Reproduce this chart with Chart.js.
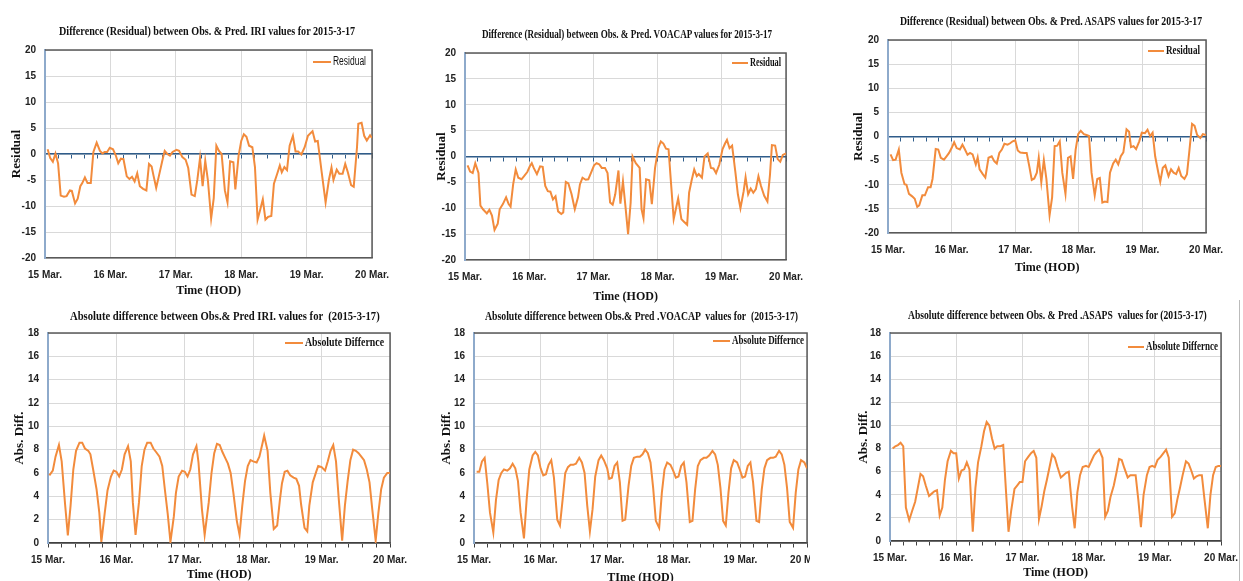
<!DOCTYPE html>
<html>
<head>
<meta charset="utf-8">
<script src="https://cdn.jsdelivr.net/npm/chart.js@4.4.1/dist/chart.umd.min.js"></script>
<style>
  html, body { margin: 0; padding: 0; background: #fff; width: 1243px; height: 581px; overflow: hidden; position: relative; }
  canvas { position: absolute; }
  .titulo { position: absolute; white-space: pre; font-family: 'Liberation Serif', serif; font-weight: bold; color: #111; transform-origin: left center; }
  .tapa { position: absolute; background: #fff; }
</style>
</head>
<body>
<script>
// Etiquetas del eje X (un tick por día)
const DIAS = ['15 Mar.', '16 Mar.', '17 Mar.', '18 Mar.', '19 Mar.', '20 Mar.'];

// Series: [día, valor]
const iriResiduo = [[15.04,0.9],[15.08,-0.8],[15.12,-1.5],[15.16,0.1],[15.2,-1.8],[15.24,-8.0],[15.29,-8.2],[15.33,-8.1],[15.38,-7.0],[15.41,-7.1],[15.46,-9.5],[15.5,-8.6],[15.54,-6.2],[15.57,-5.6],[15.61,-4.5],[15.65,-5.6],[15.7,-5.6],[15.74,0.4],[15.79,2.2],[15.84,0.6],[15.88,0.1],[15.91,0.4],[15.95,0.4],[15.99,1.2],[16.04,0.9],[16.08,-0.2],[16.12,-1.8],[16.16,-0.9],[16.2,-1.0],[16.25,-4.3],[16.29,-4.8],[16.33,-4.4],[16.37,-5.3],[16.41,-3.7],[16.45,-6.2],[16.5,-6.7],[16.55,-7.0],[16.59,-1.9],[16.63,-2.4],[16.66,-4.2],[16.7,-6.5],[16.74,-4.3],[16.79,-1.5],[16.83,0.6],[16.87,0.0],[16.91,-0.3],[16.95,0.4],[17.01,0.8],[17.05,0.6],[17.1,-0.6],[17.15,-1.1],[17.19,-2.7],[17.24,-7.8],[17.29,-8.1],[17.33,-4.9],[17.37,-0.8],[17.41,-6.2],[17.45,-1.3],[17.49,-5.0],[17.54,-12.4],[17.58,-8.5],[17.62,1.6],[17.66,0.6],[17.7,0.0],[17.75,-7.0],[17.79,-9.3],[17.83,-1.4],[17.88,-1.6],[17.91,-6.8],[17.96,-0.3],[18.0,2.5],[18.04,3.8],[18.08,3.3],[18.12,1.6],[18.17,1.3],[18.21,-2.5],[18.25,-12.6],[18.29,-10.7],[18.33,-8.7],[18.37,-12.6],[18.41,-12.1],[18.46,-11.9],[18.5,-5.7],[18.55,-3.8],[18.59,-2.2],[18.62,-3.5],[18.66,-2.5],[18.7,-3.1],[18.74,1.6],[18.79,3.5],[18.83,0.5],[18.87,0.5],[18.92,-0.1],[18.97,1.3],[19.02,3.5],[19.09,4.4],[19.13,2.4],[19.17,2.5],[19.23,-3.5],[19.29,-9.3],[19.34,-5.0],[19.38,-2.6],[19.41,-5.0],[19.46,-3.0],[19.5,-3.8],[19.55,-3.8],[19.59,-1.9],[19.63,-3.5],[19.68,-6.0],[19.72,-6.3],[19.77,1.3],[19.79,5.8],[19.84,6.0],[19.88,3.5],[19.92,2.6],[19.97,3.6],[20.0,3.1]];

const voacapResiduo = [[15.04,-1.7],[15.08,-2.9],[15.12,-3.2],[15.16,-1.3],[15.21,-3.2],[15.24,-9.5],[15.28,-10.2],[15.34,-11.0],[15.38,-10.3],[15.42,-11.4],[15.46,-14.2],[15.51,-13.0],[15.54,-10.2],[15.59,-9.2],[15.64,-7.9],[15.68,-9.2],[15.71,-9.7],[15.75,-5.4],[15.79,-2.5],[15.83,-4.1],[15.88,-4.4],[15.92,-3.8],[15.97,-3.0],[16.01,-1.9],[16.04,-1.3],[16.07,-2.2],[16.12,-3.4],[16.17,-1.9],[16.21,-2.0],[16.25,-5.7],[16.29,-6.7],[16.33,-6.8],[16.37,-8.3],[16.41,-7.7],[16.45,-10.6],[16.5,-11.1],[16.53,-10.8],[16.57,-4.9],[16.61,-5.2],[16.66,-7.3],[16.71,-10.2],[16.76,-7.9],[16.79,-5.4],[16.83,-4.1],[16.88,-4.5],[16.92,-4.4],[16.97,-2.9],[17.01,-1.7],[17.05,-1.3],[17.09,-1.5],[17.13,-2.2],[17.18,-2.2],[17.22,-3.2],[17.26,-8.9],[17.3,-9.3],[17.34,-7.3],[17.39,-2.7],[17.42,-9.1],[17.46,-4.8],[17.5,-9.8],[17.54,-15.0],[17.58,-8.9],[17.61,0.0],[17.66,-1.3],[17.72,-2.2],[17.75,-10.2],[17.78,-11.9],[17.82,-4.4],[17.87,-4.6],[17.91,-9.2],[17.96,-2.2],[18.01,1.6],[18.05,2.9],[18.09,2.5],[18.13,1.5],[18.17,1.4],[18.21,-5.4],[18.25,-12.1],[18.29,-9.8],[18.32,-8.1],[18.37,-12.1],[18.41,-12.6],[18.46,-13.2],[18.49,-7.0],[18.53,-4.6],[18.57,-2.5],[18.61,-3.8],[18.64,-3.4],[18.69,-4.1],[18.73,0.0],[18.78,0.6],[18.83,-2.2],[18.87,-2.3],[18.91,-3.2],[18.96,-1.6],[19.01,1.4],[19.05,2.5],[19.08,3.2],[19.12,1.6],[19.16,2.1],[19.21,-2.9],[19.25,-7.3],[19.29,-10.0],[19.34,-6.7],[19.37,-4.0],[19.41,-7.3],[19.45,-6.2],[19.49,-7.0],[19.53,-6.3],[19.57,-3.8],[19.61,-5.7],[19.66,-7.6],[19.71,-8.7],[19.75,-3.5],[19.78,2.2],[19.83,2.1],[19.87,-0.5],[19.91,-1.0],[19.95,0.3],[20.0,0.6]];

const asapsResiduo = [[15.04,-3.7],[15.08,-4.9],[15.12,-4.8],[15.17,-2.7],[15.21,-7.5],[15.26,-9.9],[15.29,-10.0],[15.33,-11.9],[15.38,-12.4],[15.42,-12.9],[15.46,-14.6],[15.49,-14.3],[15.54,-12.2],[15.58,-12.2],[15.63,-10.5],[15.67,-10.5],[15.7,-8.8],[15.75,-2.6],[15.79,-2.7],[15.83,-4.4],[15.88,-4.8],[15.92,-4.1],[15.96,-3.4],[16.0,-2.4],[16.04,-1.2],[16.08,-2.4],[16.13,-2.7],[16.17,-1.7],[16.21,-2.7],[16.25,-3.8],[16.29,-3.4],[16.33,-3.7],[16.38,-5.8],[16.41,-4.3],[16.44,-6.8],[16.49,-7.8],[16.53,-8.5],[16.58,-4.4],[16.63,-4.1],[16.67,-5.1],[16.71,-5.6],[16.75,-3.4],[16.79,-2.7],[16.83,-1.5],[16.88,-1.7],[16.92,-1.4],[16.96,-1.0],[17.0,-0.8],[17.04,-2.9],[17.08,-3.3],[17.14,-3.4],[17.18,-3.4],[17.22,-6.1],[17.26,-9.0],[17.3,-8.7],[17.34,-7.5],[17.37,-4.4],[17.41,-9.5],[17.45,-4.9],[17.49,-8.8],[17.54,-16.3],[17.58,-12.6],[17.62,-2.0],[17.66,-1.9],[17.7,-1.0],[17.74,-7.5],[17.79,-11.9],[17.83,-4.4],[17.87,-4.1],[17.91,-8.8],[17.95,-2.7],[17.99,0.5],[18.03,1.2],[18.08,0.5],[18.12,0.3],[18.16,0.1],[18.2,-7.5],[18.25,-12.2],[18.29,-8.8],[18.33,-8.6],[18.37,-13.7],[18.41,-13.5],[18.45,-13.6],[18.49,-7.5],[18.54,-5.6],[18.58,-4.8],[18.62,-5.8],[18.66,-4.1],[18.7,-3.3],[18.75,1.5],[18.79,1.0],[18.82,-2.2],[18.86,-2.0],[18.9,-2.6],[18.95,-1.0],[18.99,0.8],[19.04,0.7],[19.08,1.4],[19.12,0.1],[19.16,0.8],[19.2,-4.1],[19.25,-7.5],[19.28,-9.4],[19.32,-6.5],[19.36,-6.0],[19.41,-8.2],[19.45,-6.8],[19.49,-7.5],[19.53,-7.8],[19.57,-6.5],[19.61,-8.2],[19.66,-8.8],[19.7,-7.8],[19.74,-2.7],[19.78,2.6],[19.82,2.2],[19.86,0.3],[19.91,-0.3],[19.95,0.5],[20.0,0.3]];

const iriAbs = [[15.02,5.8],[15.07,6.2],[15.11,7.4],[15.16,8.4],[15.2,7.0],[15.25,3.3],[15.29,0.65],[15.33,3.2],[15.37,6.3],[15.41,7.9],[15.46,8.6],[15.5,8.6],[15.54,8.1],[15.59,7.9],[15.62,7.6],[15.66,6.3],[15.71,4.6],[15.75,2.6],[15.78,0.1],[15.83,2.6],[15.87,4.5],[15.92,5.7],[15.96,6.2],[16.0,6.1],[16.04,5.7],[16.08,6.3],[16.12,7.6],[16.17,8.3],[16.21,7.0],[16.24,3.5],[16.28,0.7],[16.33,3.5],[16.37,6.6],[16.41,8.0],[16.45,8.6],[16.5,8.6],[16.54,8.1],[16.58,7.8],[16.63,7.4],[16.67,6.6],[16.71,4.5],[16.75,2.5],[16.79,0.1],[16.84,2.3],[16.87,4.3],[16.91,5.7],[16.96,6.2],[17.0,6.1],[17.04,5.7],[17.08,6.3],[17.12,7.6],[17.17,8.3],[17.2,6.9],[17.25,2.9],[17.29,0.7],[17.35,3.5],[17.39,6.0],[17.43,7.7],[17.47,8.5],[17.51,8.4],[17.55,7.8],[17.59,7.3],[17.63,6.8],[17.67,6.0],[17.71,4.3],[17.76,1.9],[17.8,0.7],[17.84,3.2],[17.88,5.3],[17.92,6.6],[17.96,7.1],[18.0,7.0],[18.05,6.9],[18.09,7.4],[18.13,8.4],[18.16,9.2],[18.21,7.9],[18.25,4.3],[18.3,1.2],[18.35,1.5],[18.39,3.7],[18.42,5.1],[18.46,6.1],[18.5,6.2],[18.54,5.8],[18.59,5.6],[18.63,5.5],[18.67,4.9],[18.7,3.3],[18.75,1.3],[18.79,1.0],[18.82,3.2],[18.87,5.2],[18.92,6.1],[18.95,6.6],[19.0,6.5],[19.05,6.2],[19.09,7.0],[19.13,7.9],[19.17,8.4],[19.21,7.0],[19.25,3.8],[19.3,0.2],[19.34,3.2],[19.38,5.3],[19.42,7.1],[19.46,8.0],[19.5,7.9],[19.54,7.7],[19.58,7.4],[19.62,7.1],[19.66,6.3],[19.7,5.2],[19.74,2.9],[19.79,0.2],[19.83,2.6],[19.87,4.6],[19.91,5.6],[19.96,6.0],[20.0,6.0]];

const voacapAbs = [[15.04,6.1],[15.08,6.1],[15.12,7.0],[15.16,7.3],[15.2,5.1],[15.24,2.6],[15.29,0.9],[15.33,3.7],[15.37,5.4],[15.41,6.0],[15.45,6.3],[15.5,6.2],[15.54,6.4],[15.58,6.8],[15.62,6.4],[15.66,5.3],[15.7,2.6],[15.75,0.4],[15.79,3.7],[15.83,6.3],[15.88,7.5],[15.92,7.8],[15.96,7.5],[16.0,6.4],[16.04,5.8],[16.08,5.9],[16.12,6.7],[16.16,7.1],[16.2,5.6],[16.25,2.0],[16.29,1.5],[16.33,3.7],[16.37,6.0],[16.41,6.5],[16.45,6.7],[16.49,6.7],[16.53,6.8],[16.58,7.3],[16.62,6.9],[16.66,6.0],[16.7,3.2],[16.74,1.0],[16.78,2.9],[16.82,5.7],[16.87,7.1],[16.91,7.5],[16.95,7.1],[17.0,6.4],[17.03,5.5],[17.07,5.6],[17.11,6.6],[17.15,6.9],[17.19,5.2],[17.23,1.9],[17.27,2.0],[17.32,4.9],[17.36,6.6],[17.4,7.3],[17.45,7.4],[17.49,7.4],[17.53,7.6],[17.57,8.0],[17.61,7.7],[17.65,6.9],[17.69,4.7],[17.73,1.9],[17.78,1.3],[17.82,4.3],[17.86,6.3],[17.9,6.9],[17.95,6.7],[17.99,6.2],[18.03,5.6],[18.07,5.7],[18.11,6.6],[18.15,6.9],[18.19,5.2],[18.24,1.8],[18.28,1.9],[18.32,4.6],[18.36,6.6],[18.4,7.1],[18.45,7.3],[18.49,7.3],[18.53,7.5],[18.58,7.9],[18.62,7.6],[18.66,6.7],[18.7,4.7],[18.74,1.9],[18.78,1.5],[18.82,4.3],[18.86,6.4],[18.9,7.1],[18.95,6.9],[18.99,6.3],[19.03,5.6],[19.07,5.7],[19.11,6.6],[19.15,6.9],[19.19,5.2],[19.24,1.9],[19.28,1.8],[19.32,4.6],[19.36,6.4],[19.4,7.1],[19.45,7.3],[19.49,7.3],[19.53,7.4],[19.58,7.9],[19.62,7.6],[19.66,6.7],[19.7,4.7],[19.74,1.8],[19.79,1.3],[19.83,4.3],[19.87,6.3],[19.91,7.1],[19.96,6.9],[20.0,6.4]];

const asapsAbs = [[15.04,8.0],[15.08,8.2],[15.12,8.3],[15.16,8.5],[15.2,8.2],[15.24,2.9],[15.29,1.8],[15.34,2.7],[15.38,3.4],[15.42,4.6],[15.46,5.8],[15.5,5.6],[15.54,4.8],[15.59,3.9],[15.63,4.1],[15.67,4.3],[15.71,4.4],[15.75,2.2],[15.79,2.9],[15.83,5.3],[15.87,6.9],[15.92,7.8],[15.96,7.6],[16.0,7.6],[16.04,5.4],[16.08,6.1],[16.12,6.2],[16.16,6.8],[16.2,6.2],[16.25,0.8],[16.29,4.6],[16.33,6.8],[16.38,8.2],[16.42,9.5],[16.46,10.3],[16.5,10.0],[16.54,8.9],[16.58,8.0],[16.62,8.2],[16.67,8.2],[16.71,8.3],[16.75,4.5],[16.79,0.8],[16.83,2.6],[16.88,4.5],[16.92,4.8],[16.96,5.1],[17.0,5.1],[17.04,6.9],[17.09,7.3],[17.13,7.6],[17.17,7.8],[17.21,7.2],[17.25,1.9],[17.29,3.0],[17.33,4.3],[17.37,5.3],[17.41,6.4],[17.45,7.5],[17.49,7.2],[17.53,6.4],[17.58,5.5],[17.62,5.7],[17.66,5.9],[17.7,6.0],[17.75,3.0],[17.79,1.1],[17.83,4.2],[17.87,5.7],[17.91,6.4],[17.96,6.5],[18.0,6.4],[18.04,6.9],[18.08,7.4],[18.12,7.7],[18.16,7.9],[18.21,7.2],[18.25,2.1],[18.29,2.6],[18.33,3.8],[18.38,4.8],[18.42,5.9],[18.46,7.1],[18.5,7.0],[18.54,6.3],[18.59,5.5],[18.63,5.7],[18.67,5.7],[18.71,5.7],[18.75,3.6],[18.79,1.2],[18.83,4.0],[18.88,5.7],[18.92,6.4],[18.96,6.5],[19.0,6.4],[19.04,7.0],[19.09,7.3],[19.13,7.6],[19.17,7.9],[19.21,7.2],[19.26,2.1],[19.3,2.4],[19.34,3.6],[19.38,4.6],[19.42,5.7],[19.47,6.9],[19.51,6.7],[19.55,6.1],[19.59,5.4],[19.63,5.6],[19.67,5.7],[19.71,5.7],[19.75,3.6],[19.8,1.1],[19.84,4.0],[19.88,5.7],[19.92,6.4],[19.96,6.5],[20.0,6.5]];

const NARANJA = '#f28b3c';
const FUENTE_EJE = "'Liberation Sans','Arial',sans-serif";
const FUENTE_SERIF = "'Liberation Serif','Times New Roman',serif";

// Un panel por gráfico: posición en la página (px) y textos
const paneles = [
  { titulo: 'Difference (Residual) between Obs. & Pred. IRI values for 2015-3-17', tit: [59, 355, 31, 13],
    area: [45, 47, 374, 258], yMin: -20, yMax: 20, paso: 5, ejeY: 'Residual', ejeYx: 17, ejeX: 'Time (HOD)', ejeXy: 291,
    datos: iriResiduo, serie: 'Residual', ley: [313, 62, 18, 33], leyFuente: "12px 'Liberation Sans'", cero: '#2f5c8a' },
  { titulo: 'Difference (Residual) between Obs. & Pred. VOACAP values for 2015-3-17', tit: [482, 772, 34, 13],
    area: [465, 50, 788, 260], yMin: -20, yMax: 20, paso: 5, ejeY: 'Residual', ejeYx: 442, ejeX: 'Time (HOD)', ejeXy: 297,
    datos: voacapResiduo, serie: 'Residual', ley: [732, 63, 16, 31], leyFuente: "bold 13px " + FUENTE_SERIF, cero: '#2f5c8a' },
  { titulo: 'Difference (Residual) between Obs. & Pred. ASAPS values for 2015-3-17', tit: [900, 1202, 21, 13],
    area: [888, 37, 1208, 233], yMin: -20, yMax: 20, paso: 5, ejeY: 'Residual', ejeYx: 859, ejeX: 'Time (HOD)', ejeXy: 268,
    datos: asapsResiduo, serie: 'Residual', ley: [1148, 51, 16, 34], leyFuente: "bold 13px " + FUENTE_SERIF, cero: '#2f5c8a' },
  { titulo: 'Absolute difference between Obs.& Pred IRI. values for  (2015-3-17)', tit: [70, 380, 316, 12],
    area: [48, 330, 392, 543], yMin: 0, yMax: 18, paso: 2, ejeY: 'Abs. Diff.', ejeYx: 20, ejeX: 'Time (HOD)', ejeXy: 575,
    datos: iriAbs, serie: 'Absolute Differnce', ley: [285, 343, 18, 79], leyFuente: "bold 13px " + FUENTE_SERIF, cero: '#404040' },
  { titulo: 'Absolute difference between Obs.& Pred .VOACAP  values for  (2015-3-17)', tit: [485, 798, 316, 12],
    area: [474, 330, 809, 543], yMin: 0, yMax: 18, paso: 2, ejeY: 'Abs. Diff.', ejeYx: 447, ejeX: 'TIme (HOD)', ejeXy: 578,
    datos: voacapAbs, serie: 'Absolute Differnce', ley: [713, 341, 17, 72], leyFuente: "bold 13px " + FUENTE_SERIF, cero: '#404040' },
  { titulo: 'Absolute difference between Obs. & Pred .ASAPS  values for (2015-3-17)', tit: [908, 1207, 315, 12],
    area: [890, 330, 1223, 541], yMin: 0, yMax: 18, paso: 2, ejeY: 'Abs. Diff.', ejeYx: 864, ejeX: 'Time (HOD)', ejeXy: 573,
    datos: asapsAbs, serie: 'Absolute Differnce', ley: [1128, 347, 16, 72], leyFuente: "bold 13px " + FUENTE_SERIF, cero: '#404040' }
];

// Marco superior y derecho del área de trazado
const marco = {
  id: 'marco',
  beforeDatasetsDraw(chart) {
    const { ctx, chartArea: a } = chart;
    ctx.save();
    ctx.strokeStyle = '#595959';
    ctx.lineWidth = 1.5;
    ctx.beginPath();
    ctx.moveTo(a.left, a.top);
    ctx.lineTo(a.right, a.top);
    ctx.lineTo(a.right, a.bottom);
    ctx.stroke();
    ctx.restore();
  }
};

// Leyenda dentro del área, arriba a la derecha
const leyendaInterna = {
  id: 'leyendaInterna',
  afterDatasetsDraw(chart, args, o) {
    const ctx = chart.ctx;
    const ds = chart.data.datasets[0];
    ctx.save();
    ctx.strokeStyle = ds.borderColor;
    ctx.lineWidth = 2;
    ctx.beginPath();
    ctx.moveTo(o.x, o.y);
    ctx.lineTo(o.x + o.largo, o.y);
    ctx.stroke();
    ctx.font = o.fuente;
    ctx.fillStyle = '#111';
    ctx.textBaseline = 'middle';
    const w = ctx.measureText(ds.label).width;
    ctx.translate(o.x + o.largo + 2, o.y);
    ctx.scale(o.ancho / w, 1);
    ctx.fillText(ds.label, 0, 0);
    ctx.restore();
  }
};

paneles.forEach(p => {
  const [L, T, R, B] = p.area;
  const izq = 45, arriba = 12, der = 26;
  const abajo = p.ejeXy - B + 7;
  const ancho = R - L + izq + der;
  const alto = B - T + arriba + abajo;
  const x0 = L - izq, y0 = T - arriba;

  const cv = document.createElement('canvas');
  cv.width = ancho; cv.height = alto;
  cv.style.left = x0 + 'px'; cv.style.top = y0 + 'px';
  cv.style.width = ancho + 'px'; cv.style.height = alto + 'px';
  document.body.appendChild(cv);

  const fuenteTicks = { family: FUENTE_EJE, size: 10, weight: 'bold' };

  new Chart(cv, {
    type: 'line',
    data: {
      datasets: [{
        label: p.serie,
        data: p.datos.map(([x, y]) => ({ x, y })),
        xAxisID: 'x',
        yAxisID: 'y',
        borderColor: NARANJA,
        borderWidth: 2,
        pointRadius: 0,
        tension: 0,
        fill: false
      }]
    },
    options: {
      responsive: false,
      animation: false,
      devicePixelRatio: 1,
      layout: { padding: { top: arriba, right: der, left: 0, bottom: 0 } },
      plugins: {
        legend: { display: false },
        tooltip: { enabled: false },
        leyendaInterna: { x: p.ley[0] - x0, y: p.ley[1] - y0, largo: p.ley[2], ancho: p.ley[3], fuente: p.leyFuente }
      },
      scales: {
        x: {
          type: 'linear', min: 15, max: 20,
          afterFit: s => { s.height = abajo; },
          ticks: {
            stepSize: 1, autoSkip: false, maxRotation: 0, padding: 11, color: '#222', font: fuenteTicks,
            callback: v => DIAS[Math.round(v - 15)]
          },
          grid: { color: '#d9d9d9', drawTicks: false },
          border: { color: '#595959', width: 1.5 },
          title: { display: true, text: p.ejeX, color: '#111', padding: { top: 0, bottom: 0 },
                   font: { family: FUENTE_SERIF, size: 12, weight: 'bold' } }
        },
        x2: {
          type: 'linear', axis: 'x', position: { y: 0 }, min: 15, max: 20,
          ticks: { stepSize: 0.2, display: false },
          grid: { drawOnChartArea: false, drawTicks: true, tickLength: 4, tickColor: p.cero, tickWidth: 1 },
          border: { color: p.cero, width: 1.5 }
        },
        y: {
          min: p.yMin, max: p.yMax,
          afterFit: s => { s.width = izq; },
          ticks: { stepSize: p.paso, padding: 9, color: '#222', font: fuenteTicks },
          grid: { color: '#d9d9d9', drawTicks: false },
          border: { color: '#8eaacb', width: 2 },
          title: { display: true, text: p.ejeY, color: '#111',
                   padding: { top: Math.max(0, p.ejeYx - x0 - 7.8), bottom: 0 },
                   font: { family: FUENTE_SERIF, size: 13, weight: 'bold' } }
        }
      }
    },
    plugins: [marco, leyendaInterna]
  });

  // Título del gráfico, comprimido al ancho original
  const t = document.createElement('div');
  t.className = 'titulo';
  t.textContent = p.titulo;
  t.style.fontSize = p.tit[3] + 'px';
  document.body.appendChild(t);
  const k = (p.tit[1] - p.tit[0]) / t.offsetWidth;
  t.style.left = p.tit[0] + 'px';
  t.style.top = (p.tit[2] - t.offsetHeight / 2) + 'px';
  t.style.transform = 'scaleX(' + k + ')';
});

// Recorte del panel central inferior y borde de la imagen derecha
const tapa = document.createElement('div');
tapa.className = 'tapa';
Object.assign(tapa.style, { left: '810px', top: '305px', width: '34px', height: '276px' });
document.body.appendChild(tapa);
const borde = document.createElement('div');
Object.assign(borde.style, { position: 'absolute', left: '1239px', top: '300px', width: '1px', height: '281px', background: '#bbb' });
document.body.appendChild(borde);
</script>
</body>
</html>
